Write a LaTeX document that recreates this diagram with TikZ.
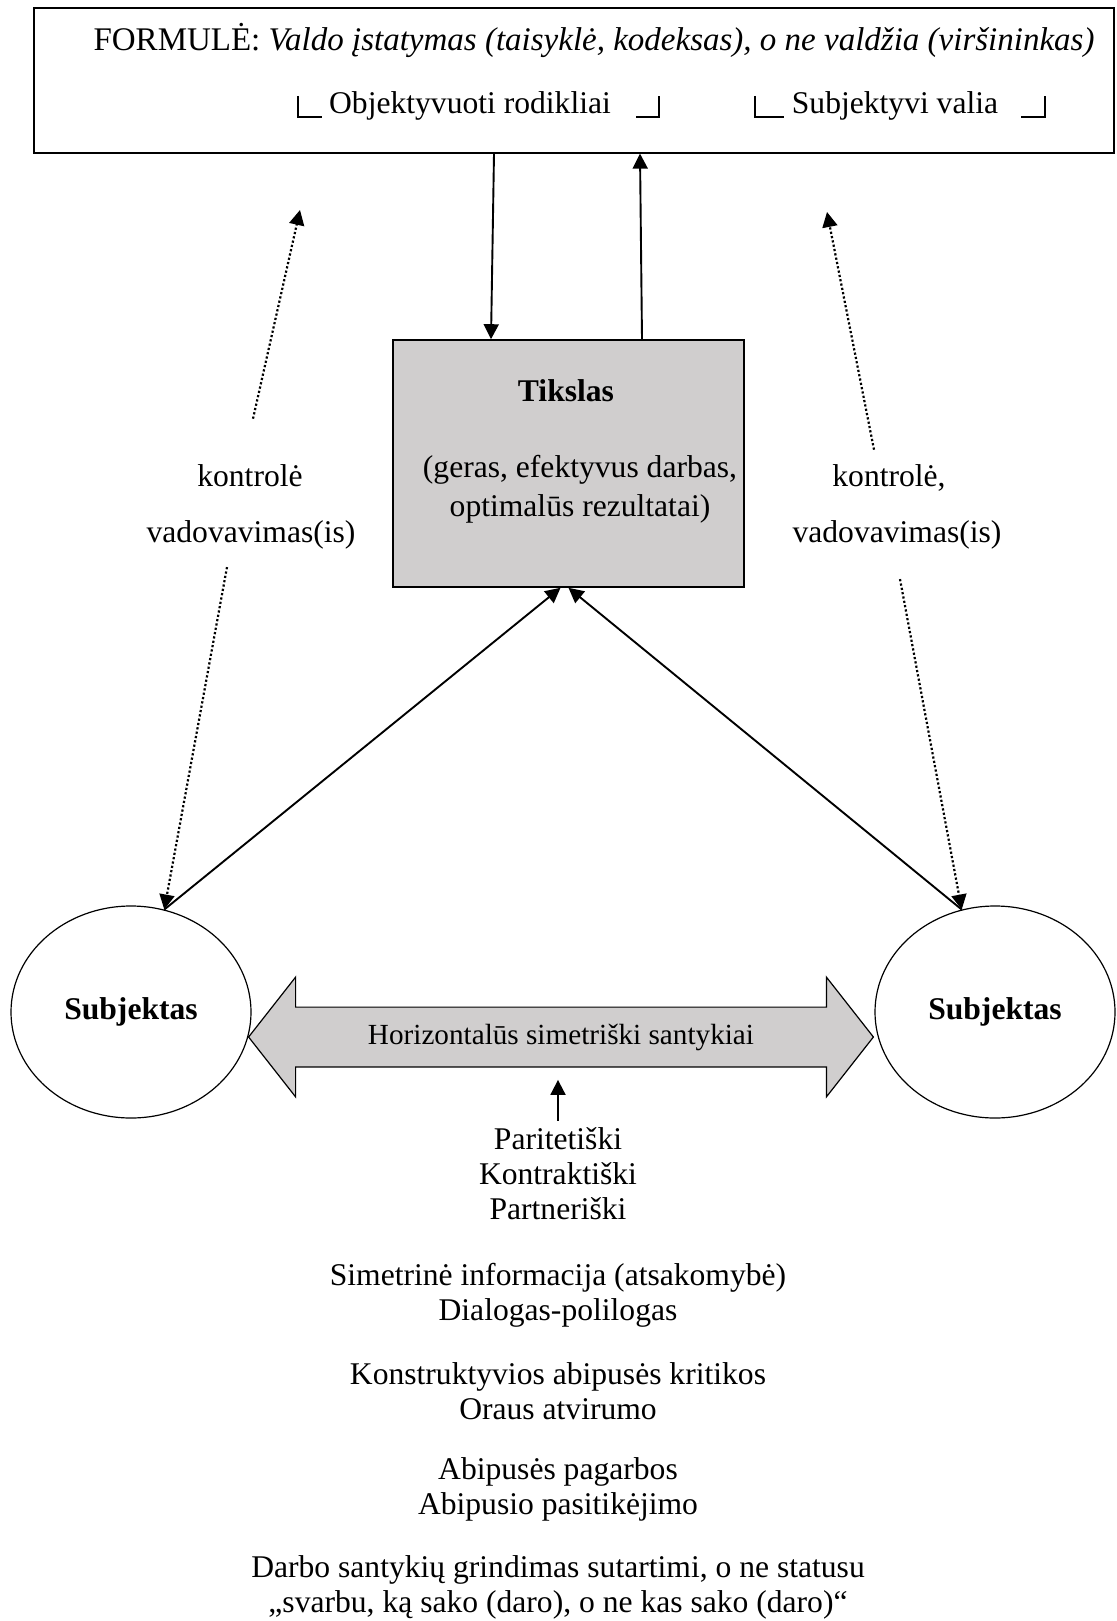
\documentclass[tikz,border=0pt]{standalone}
\usepackage{fontspec}
\setmainfont{Liberation Serif}
\usepackage{tikz}
\usetikzlibrary{positioning, shapes, arrows.meta, backgrounds, calc}
\definecolor{goalgray}{RGB}{208,206,206}
\newcommand{\mainsize}{\fontsize{15.8pt}{17.5pt}\selectfont}
\newcommand{\smallsize}{\fontsize{14.6pt}{16pt}\selectfont}
\newcommand{\formsize}{\fontsize{16.5pt}{18pt}\selectfont}
\tikzstyle{topbox}=[%
      rectangle, draw=black, line width=0.6pt, fill=none,
      minimum width=540pt, minimum height=72.5pt, inner sep=0pt
]
\tikzstyle{goal}=[%
      rectangle, draw=black, line width=0.8pt, fill=goalgray,
      minimum width=175.5pt, minimum height=123.5pt, inner sep=0pt
]
\tikzstyle{subj}=[%
      ellipse, draw=black, line width=0.6pt, fill=none,
      minimum width=120pt, minimum height=106pt, inner sep=0pt
]
\tikzstyle{txt}=[inner sep=1pt, anchor=base]
\tikzstyle{hrel}=[%
      rectangle, inner sep=0pt, minimum width=265pt, minimum height=29.5pt, font=\smallsize
]
\tikzstyle{arr}=[-{Triangle[length=7.5pt,width=7.5pt]}, line width=0.95pt]
\tikzstyle{darr}=[arr, line width=1.1pt, dash pattern=on 1.1pt off 1.1pt]
\tikzstyle{brk}=[line width=0.6pt]

\begin{document}
\begin{tikzpicture}[x=0.5pt, y=-0.5pt, font=\mainsize]
    \useasboundingbox (0,0) rectangle (1117,1621);

    % formula box
    \node[topbox] (formula) at (574,80.5) {};
    \node[txt, font=\formsize] (fline) at (594,51) {FORMULĖ: \textit{Valdo įstatymas (taisyklė, kodeksas), o ne valdžia (viršininkas)}};
    \node[txt] (obj) at (470,114) {Objektyvuoti rodikliai};
    \node[txt] (sv)  at (895,114) {Subjektyvi valia};
    \draw[brk] (298,96) |- (322,117)  (636,117) -| (659,96)
               (755,96) |- (784,117)  (1021,117) -| (1045,96);

    % goal
    \node[goal] (goal) at (568.5,463.5) {};
    \node[txt] (tiks) at (566,401) {\textbf{Tikslas}};
    \node[txt] (g1)   at (580,477) {(geras, efektyvus darbas,};
    \node[txt] (g2)   at (580,516) {optimalūs rezultatai)};

    \draw[arr] ([xshift=-40pt]formula.south) -- ([xshift=-38.75pt]goal.north);
    \draw[arr] ([xshift=36.75pt]goal.north) -- ([xshift=33pt]formula.south);

    % subjects
    \node[subj] (lsub) at (131,1012) {\textbf{Subjektas}};
    \node[subj] (rsub) at (995,1012) {\textbf{Subjektas}};
    \draw[arr] (lsub.72) -- ([xshift=-4pt]goal.south);
    \draw[arr] (rsub.108) -- (goal.south);

    % control
    \node[txt] (kl) at (250,486) {kontrolė};
    \node[txt] (vl) at (251,542) {vadovavimas(is)};
    \node[txt] (kr) at (889,486) {kontrolė,};
    \node[txt] (vr) at (897,542) {vadovavimas(is)};
    \coordinate (klup) at (300,210);
    \coordinate (krup) at (827,212);
    \draw[darr] ([xshift=1.5pt,yshift=21.5pt]kl.north) -- (klup);
    \draw[darr] ([xshift=-12pt,yshift=-8pt]vl.south) -- (lsub.72);
    \draw[darr] ([xshift=-7.5pt,yshift=6pt]kr.north) -- (krup);
    \draw[darr] ([xshift=1.5pt,yshift=-14pt]vr.south) -- (rsub.108);

    % horizontal relations
    \node[hrel] (hz) at (561,1037) {Horizontalūs simetriški santykiai};
    \begin{scope}[on background layer]
      \draw[line width=0.6pt, fill=goalgray] (hz.north west) -- ([yshift=15pt]hz.north west)
        -- ([xshift=-23.5pt]hz.west) -- ([yshift=-15pt]hz.south west) -- (hz.south west)
        -- (hz.south east) -- ([yshift=-15pt]hz.south east) -- ([xshift=23.5pt]hz.east)
        -- ([yshift=15pt]hz.north east) -- (hz.north east) -- cycle;
    \end{scope}

    % list
    \node[txt] (l1)  at (558,1149) {Paritetiški};
    \node[txt] (l2)  at ([yshift=-17.5pt]l1.base) {Kontraktiški};
    \node[txt] (l3)  at ([yshift=-17.5pt]l2.base) {Partneriški};
    \node[txt] (l4)  at ([yshift=-33pt]l3.base) {Simetrinė informacija (atsakomybė)};
    \node[txt] (l5)  at ([yshift=-17.5pt]l4.base) {Dialogas-polilogas};
    \node[txt] (l6)  at ([yshift=-32pt]l5.base) {Konstruktyvios abipusės kritikos};
    \node[txt] (l7)  at ([yshift=-17.5pt]l6.base) {Oraus atvirumo};
    \node[txt] (l8)  at ([yshift=-30pt]l7.base) {Abipusės pagarbos};
    \node[txt] (l9)  at ([yshift=-17.5pt]l8.base) {Abipusio pasitikėjimo};
    \node[txt] (l10) at ([yshift=-31.5pt]l9.base) {Darbo santykių grindimas sutartimi, o ne statusu};
    \node[txt] (l11) at ([yshift=-17.5pt]l10.base) {„svarbu, ką sako (daro), o ne kas sako (daro)“};

    \draw[arr] ([yshift=2pt]l1.north) -- ([xshift=-1.5pt,yshift=-6.5pt]hz.south);
\end{tikzpicture}
\end{document}
